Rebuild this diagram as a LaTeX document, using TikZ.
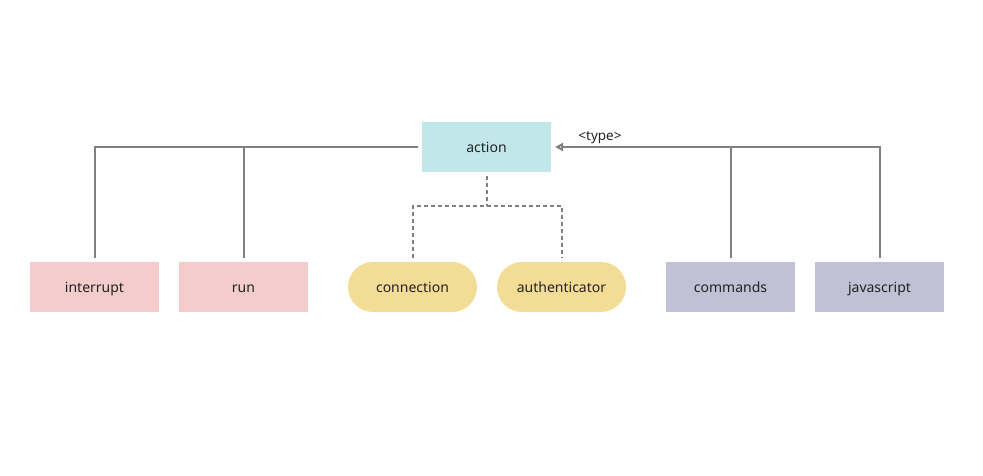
\documentclass[tikz,border=0pt]{standalone}
\usepackage{fontspec}
\setmainfont{Noto Sans}
\usetikzlibrary{arrows.meta}
\definecolor{linegray}{HTML}{808080}
\definecolor{cyanbox}{HTML}{C2E7EA}
\definecolor{pinkbox}{HTML}{F4CCCC}
\definecolor{yellowbox}{HTML}{F3DC96}
\definecolor{purplebox}{HTML}{C1C1D6}
\definecolor{txt}{HTML}{222222}
\tikzset{
  box/.style={rectangle, minimum width=129pt, minimum height=50pt, inner sep=0pt, outer sep=4pt,
    text=txt, font=\fontsize{14}{16}\selectfont, text height=12pt, text depth=1pt},
  pillbox/.style={box, rounded corners=25pt},
  conn/.style={draw=linegray, line width=2pt},
  dconn/.style={draw=linegray, line width=2pt, dash pattern=on 4pt off 3pt},
}
\begin{document}
\begin{tikzpicture}[x=1pt,y=-1pt]
\useasboundingbox (0,0) rectangle (983,476);
\node[box, fill=cyanbox] (action) at (486.5,147) {action};
\node[box, fill=pinkbox] (interrupt) at (94.5,287) {interrupt};
\node[box, fill=pinkbox] (run) at (243.5,287) {run};
\node[pillbox, fill=yellowbox] (connection) at (412.5,287) {connection};
\node[pillbox, fill=yellowbox] (authenticator) at (561.5,287) {authenticator};
\node[box, fill=purplebox] (commands) at (730.5,287) {commands};
\node[box, fill=purplebox] (javascript) at (879.5,287) {javascript};
% left tree
\draw[conn] (interrupt.north) |- (action.west);
\draw[conn] (run.north) -- (run.north |- action.west);
% right tree with arrow
\draw[conn, -{Triangle[open, length=8pt, width=8pt]}] (javascript.north) |- (action.east);
\draw[conn] (commands.north) -- (commands.north |- action.east);
\node[text=txt, font=\fontsize{13.5}{15}\selectfont, inner sep=0pt] (typelbl) at (600,138) {<type>};
% dashed
\coordinate (dj) at (486.5,206);
\draw[dconn] (action.south) -- (dj);
\draw[dconn] (connection.north) |- (dj) -| (authenticator.north);
\end{tikzpicture}
\end{document}
